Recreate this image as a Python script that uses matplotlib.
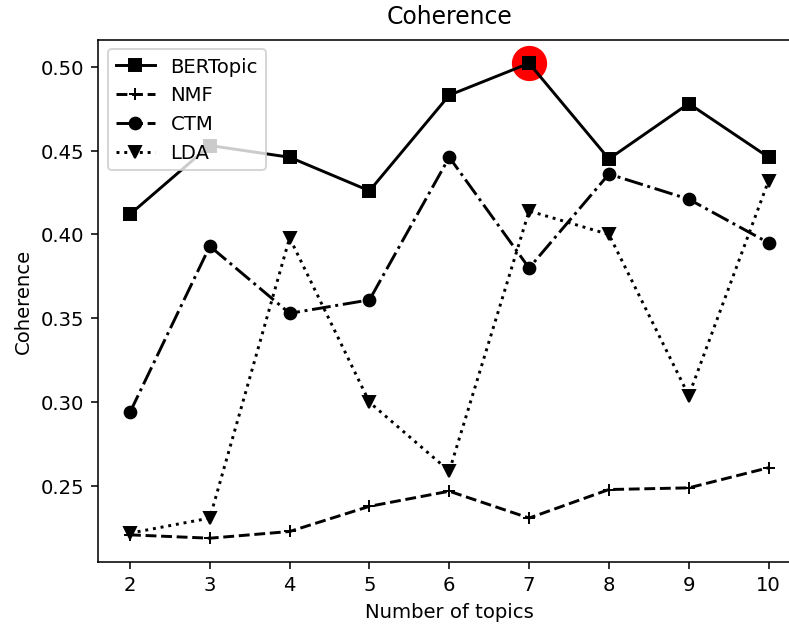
import matplotlib
matplotlib.use("Agg")
import matplotlib.pyplot as plt

topics = [2, 3, 4, 5, 6, 7, 8, 9, 10]
bertopic = [0.412, 0.453, 0.446, 0.426, 0.483, 0.502, 0.445, 0.478, 0.446]
nmf = [0.221, 0.219, 0.223, 0.238, 0.247, 0.231, 0.248, 0.249, 0.261]
ctm = [0.294, 0.393, 0.353, 0.361, 0.446, 0.380, 0.436, 0.421, 0.395]
lda = [0.222, 0.231, 0.398, 0.300, 0.259, 0.414, 0.400, 0.304, 0.432]

best = bertopic.index(max(bertopic))

dpi = 141
fig = plt.figure(figsize=(789.5 / dpi, 624.5 / dpi), dpi=dpi)
# the reference is cropped: the right spine sits just outside the image
ax = fig.add_axes([98 / 789, 1 - 562 / 624, 702 / 789, 522 / 624])

ax.plot(topics[best], bertopic[best], 'o', color='red', markersize=17)
ax.plot(topics, bertopic, '-s', color='black', label='BERTopic')
ax.plot(topics, nmf, '--+', color='black', label='NMF')
ax.plot(topics, ctm, '-.o', color='black', label='CTM')
ax.plot(topics, lda, ':v', color='black', label='LDA')

ax.set_title('Coherence', pad=8)
ax.set_xlabel('Number of topics')
ax.set_ylabel('Coherence')
ax.set_xticks(topics)
ax.legend(loc='upper left')

fig.savefig('out.png', dpi=dpi)
